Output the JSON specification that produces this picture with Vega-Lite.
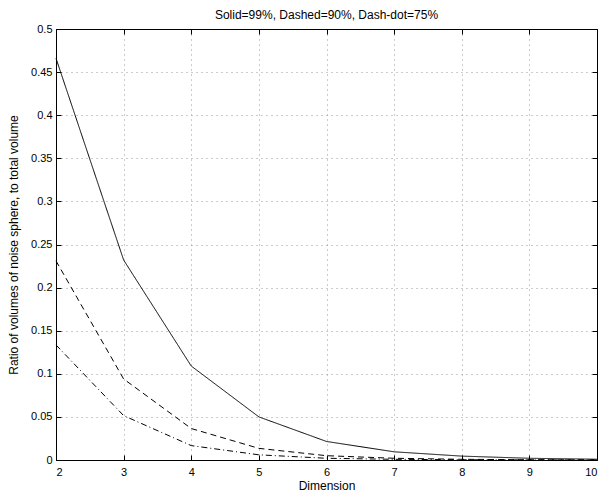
{
  "$schema": "https://vega.github.io/schema/vega-lite/v6.json",
  "autosize": {"type": "none"},
  "width": 541,
  "height": 431,
  "padding": {"left": 56, "top": 29, "right": 14, "bottom": 32},
  "background": "white",
  "title": {"text": "Solid=99%, Dashed=90%, Dash-dot=75%", "fontSize": 12, "fontWeight": "normal", "font": "Liberation Sans", "color": "black", "offset": 1},
  "config": {
    "view": {"stroke": "black", "strokeWidth": 1},
    "axis": {"labelFont": "Liberation Sans", "titleFont": "Liberation Sans", "labelFontSize": 11, "titleFontSize": 12, "titleFontWeight": "normal", "labelColor": "black", "titleColor": "black", "domainColor": "black", "tickColor": "black", "gridColor": "#999", "gridDash": [1, 4], "gridWidth": 1, "gridOpacity": 1}
  },
  "data": {"values": [
    {"dim": 2, "value": 0.466, "series": "99%"},
    {"dim": 3, "value": 0.232, "series": "99%"},
    {"dim": 4, "value": 0.109, "series": "99%"},
    {"dim": 5, "value": 0.050, "series": "99%"},
    {"dim": 6, "value": 0.0215, "series": "99%"},
    {"dim": 7, "value": 0.0095, "series": "99%"},
    {"dim": 8, "value": 0.0045, "series": "99%"},
    {"dim": 9, "value": 0.002, "series": "99%"},
    {"dim": 10, "value": 0.0009, "series": "99%"},
    {"dim": 2, "value": 0.231, "series": "90%"},
    {"dim": 3, "value": 0.094, "series": "90%"},
    {"dim": 4, "value": 0.0365, "series": "90%"},
    {"dim": 5, "value": 0.0135, "series": "90%"},
    {"dim": 6, "value": 0.005, "series": "90%"},
    {"dim": 7, "value": 0.002, "series": "90%"},
    {"dim": 8, "value": 0.0008, "series": "90%"},
    {"dim": 9, "value": 0.0003, "series": "90%"},
    {"dim": 10, "value": 0.0001, "series": "90%"},
    {"dim": 2, "value": 0.1335, "series": "75%"},
    {"dim": 3, "value": 0.0515, "series": "75%"},
    {"dim": 4, "value": 0.0167, "series": "75%"},
    {"dim": 5, "value": 0.006, "series": "75%"},
    {"dim": 6, "value": 0.002, "series": "75%"},
    {"dim": 7, "value": 0.0008, "series": "75%"},
    {"dim": 8, "value": 0.0003, "series": "75%"},
    {"dim": 9, "value": 0.0001, "series": "75%"},
    {"dim": 10, "value": 0.00004, "series": "75%"}
  ]},
  "layer": [
    {
      "mark": {"type": "line", "color": "black", "strokeWidth": 1},
      "encoding": {
        "x": {"field": "dim", "type": "quantitative", "scale": {"domain": [2, 10], "nice": false}, "axis": {"title": "Dimension", "values": [2, 3, 4, 5, 6, 7, 8, 9, 10], "tickSize": -5, "labelPadding": 11, "titlePadding": 3, "grid": true}},
        "y": {"field": "value", "type": "quantitative", "scale": {"domain": [0, 0.5], "nice": false}, "axis": {"title": "Ratio of volumes of noise sphere, to total volume", "values": [0, 0.05, 0.1, 0.15, 0.2, 0.25, 0.3, 0.35, 0.4, 0.45, 0.5], "format": "~g", "tickSize": -5, "labelPadding": 9, "titlePadding": 10, "grid": true}},
        "strokeDash": {"field": "series", "type": "nominal", "legend": null, "scale": {"domain": ["99%", "90%", "75%"], "range": [[1, 0], [6, 4], [6, 3, 1, 3]]}},
        "detail": {"field": "series"}
      }
    },
    {
      "mark": {"type": "line", "opacity": 0},
      "encoding": {
        "x": {"field": "dim", "type": "quantitative", "axis": {"orient": "top", "title": null, "labels": false, "values": [2, 3, 4, 5, 6, 7, 8, 9, 10], "tickSize": -5, "grid": false}},
        "y": {"field": "value", "type": "quantitative", "axis": {"orient": "right", "title": null, "labels": false, "values": [0, 0.05, 0.1, 0.15, 0.2, 0.25, 0.3, 0.35, 0.4, 0.45, 0.5], "tickSize": -5, "grid": false}},
        "detail": {"field": "series"}
      }
    }
  ],
  "resolve": {"axis": {"x": "independent", "y": "independent"}}
}
